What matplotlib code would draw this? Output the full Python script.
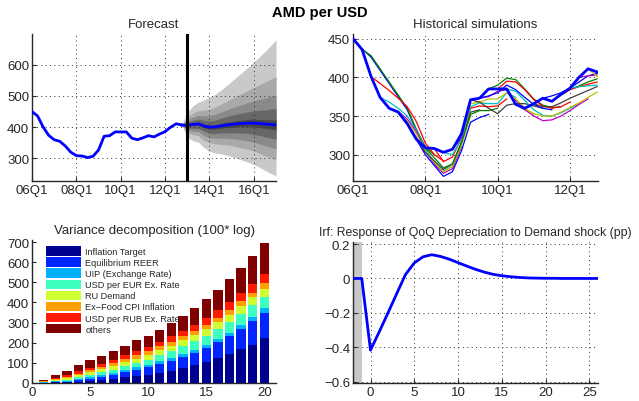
import numpy as np
import matplotlib
matplotlib.use('Agg')
import matplotlib.pyplot as plt

plt.rcParams['font.family'] = ['Liberation Sans', 'DejaVu Sans']
plt.rcParams['axes.unicode_minus'] = True

# ---------------- DATA ----------------
# Actual AMD per USD, 06Q1 .. 12Q4 (quarterly)
actual = [450, 436, 401, 374, 360, 355, 340, 320, 309, 308, 303, 307, 327, 371,
          373, 385, 385, 385, 365, 360, 366, 373, 369, 378, 386, 400, 411, 407]

# Forecast 12Q4 .. 17Q1
fc_mean = [407, 406, 409, 411, 404, 400, 401, 404, 407, 409, 411, 412, 413, 413, 412, 410, 409, 407]
fan_up90 = [407, 448, 468, 480, 487, 495, 505, 518, 532, 547, 562, 577, 592, 608, 625, 642, 660, 680]
fan_lo90 = [407, 368, 357, 352, 335, 323, 318, 315, 311, 306, 301, 294, 288, 281, 272, 262, 253, 244]
fan_up70 = [407, 432, 445, 453, 455, 457, 464, 473, 482, 491, 501, 509, 518, 527, 536, 544, 553, 562]
fan_lo70 = [407, 382, 376, 373, 359, 350, 347, 345, 344, 341, 337, 333, 329, 324, 317, 309, 303, 295]
fan_up50 = [407, 423, 432, 438, 436, 437, 441, 447, 454, 461, 467, 473, 479, 484, 489, 493, 498, 502]
fan_lo50 = [407, 390, 387, 386, 374, 367, 365, 365, 365, 363, 362, 359, 356, 352, 347, 341, 336, 330]
fan_up30 = [407, 415, 422, 426, 422, 420, 423, 428, 433, 438, 442, 446, 449, 452, 454, 455, 458, 459]
fan_lo30 = [407, 397, 396, 396, 387, 381, 380, 381, 382, 382, 382, 381, 380, 377, 374, 369, 366, 361]
fan_up10 = [407, 409, 413, 416, 410, 407, 408, 412, 416, 418, 421, 423, 425, 426, 425, 424, 424, 423]
fan_lo10 = [407, 403, 405, 406, 398, 394, 394, 396, 399, 400, 401, 402, 402, 401, 399, 396, 394, 391]

fc_ticklabels = ['06Q1', '08Q1', '10Q1', '12Q1', '14Q1', '16Q1']
hs_ticklabels = ['06Q1', '08Q1', '10Q1', '12Q1']

# Historical simulations: start quarter index (0 = 06Q1) and simulated path
sim_starts = list(range(27))
sim_paths = [
    [450, 437, 426, 409, 392, 375, 358, 332, 309],
    [436, 428, 411, 394, 377, 360, 333, 310, 300],
    [401, 392, 383, 373, 362, 343, 315, 300, 292],
    [374, 368, 360, 350, 332, 308, 290, 279, 285],
    [360, 356, 346, 330, 305, 288, 276, 282, 310],
    [355, 343, 327, 305, 290, 278, 285, 312, 350],
    [340, 322, 303, 292, 281, 288, 316, 355, 358],
    [320, 300, 286, 272, 278, 305, 342, 348, 352],
    [309, 296, 283, 288, 316, 352, 357, 357, 360],
    [308, 291, 297, 322, 360, 363, 362, 363, 372],
    [303, 300, 320, 362, 367, 366, 366, 380, 374],
    [307, 322, 370, 373, 375, 382, 384, 370, 360],
    [327, 366, 368, 372, 372, 380, 372, 360, 352],
    [371, 368, 360, 353, 364, 366, 366, 363, 360],
    [373, 376, 380, 390, 384, 374, 365, 360, 358],
    [385, 390, 399, 397, 385, 372, 364, 361, 362],
    [385, 395, 394, 384, 371, 363, 360, 362, 368],
    [385, 382, 370, 358, 351, 350, 354, 360, 366],
    [365, 358, 350, 344, 345, 350, 357, 365, 372],
    [360, 353, 350, 350, 355, 361, 367, 374, 381],
    [366, 362, 362, 367, 373, 378, 383, 388],
    [373, 376, 380, 386, 394, 402, 405],
    [369, 377, 384, 389, 394, 398],
    [378, 384, 388, 391, 394],
    [386, 388, 389, 390],
    [400, 402, 403],
    [411, 401],
]

# Variance decomposition (100*log), horizons 1..20
vd_labels = ['Inflation Target', 'Equilibrium REER', 'UIP (Exchange Rate)',
             'USD per EUR Ex. Rate', 'RU Demand', 'Ex\u2212Food CPI Inflation',
             'USD per RUB Ex. Rate', 'others']
vd_it   = [1, 3, 3, 7, 10, 15, 22, 28, 35, 41, 51, 61, 75, 91, 104, 124, 146, 167, 189, 221]
vd_reer = [1, 2, 4, 6, 12, 15, 18, 25, 31, 37, 45, 50, 56, 60, 68, 78, 88, 103, 119, 129]
vd_uip  = [1, 3, 3, 5, 6, 8, 10, 10, 12, 13, 12, 15, 15, 15, 17, 17, 16, 20, 19, 20]
vd_eur  = [2, 4, 7, 10, 12, 15, 16, 20, 22, 25, 30, 33, 38, 43, 46, 50, 55, 55, 58, 58]
vd_ru   = [2, 3, 6, 10, 13, 15, 19, 20, 21, 25, 28, 27, 30, 30, 34, 33, 35, 36, 40, 41]
vd_cpi  = [1, 3, 7, 8, 10, 12, 13, 15, 17, 17, 16, 20, 18, 20, 21, 21, 23, 24, 23, 27]
vd_rub  = [2, 5, 8, 12, 13, 16, 18, 20, 20, 21, 24, 25, 28, 31, 33, 37, 40, 43, 45, 45]
vd_oth  = [7, 15, 23, 30, 37, 40, 45, 48, 54, 56, 59, 66, 73, 81, 92, 104, 114, 122, 140, 152]

# Impulse response, periods -2 .. 26
irf_vals = [0, 0, -0.417, -0.31, -0.20, -0.088, 0.023, 0.09, 0.126, 0.138, 0.128, 0.112,
            0.092, 0.072, 0.053, 0.037, 0.024, 0.016, 0.010, 0.006, 0.003, 0.002, 0.001,
            0.001, 0, 0, 0, 0, 0]

# ---------------- STYLE ----------------
W, H = 639, 402
fig = plt.figure(figsize=(W / 100, H / 100), dpi=100)
TXT = '#262626'

def ax_at(x0, y0, x1, y1):
    return fig.add_axes([x0 / W, 1 - y1 / H, (x1 - x0) / W, (y1 - y0) / H])

def style(ax, grid=True):
    for s in ['top', 'right']:
        ax.spines[s].set_visible(False)
    for s in ['left', 'bottom']:
        ax.spines[s].set_color(TXT)
        ax.spines[s].set_linewidth(1.0)
    ax.tick_params(direction='in', length=3, width=0.8, colors=TXT, labelsize=9.5, pad=2)
    if grid:
        ax.grid(True, color='#303030', linestyle=(0, (1, 3.5)), linewidth=0.7)
        ax.set_axisbelow(False)

fig.text(0.5, 1 - 13 / H, 'AMD per USD', ha='center', va='center', fontsize=10.5,
         fontweight='bold', color='black')

# ---- Forecast ----
ax1 = ax_at(32, 35, 276, 182)
style(ax1)
t_hist = np.arange(len(actual))
t_fc = np.arange(len(fc_mean)) + len(actual) - 1
bands = [(fan_lo90, fan_up90, '#c9c9c9'), (fan_lo70, fan_up70, '#a9a9a9'),
         (fan_lo50, fan_up50, '#8a8a8a'), (fan_lo30, fan_up30, '#676767'),
         (fan_lo10, fan_up10, '#474747')]
for lo, up, c in bands:
    ax1.fill_between(t_fc, lo, up, color=c, linewidth=0, zorder=2)
ax1.plot(t_hist, actual, color='#0000ff', lw=2.0, zorder=4)
ax1.plot(t_fc, fc_mean, color='#0000ff', lw=2.0, zorder=4)
ax1.axvline(len(actual), color='black', lw=2.2, zorder=5)
ax1.set_xlim(0, 44)
ax1.set_ylim(228, 698)
ax1.set_xticks(np.arange(0, 41, 8))
ax1.set_xticklabels(fc_ticklabels)
ax1.set_yticks([300, 400, 500, 600])
ax1.set_title('Forecast', fontsize=9.5, color=TXT, pad=5)

# ---- Historical simulations ----
ax2 = ax_at(353, 35, 598, 182)
style(ax2)
sim_colors = [(0, 0, 1), (0, 0.5, 0), (1, 0, 0), (0, 0.75, 0.75),
              (0.75, 0, 0.75), (0.75, 0.75, 0), (0.25, 0.25, 0.25)]
for i, (s, p) in enumerate(zip(sim_starts, sim_paths)):
    ax2.plot(np.arange(s, s + len(p)), p, color=sim_colors[i % 7], lw=0.9, zorder=3)
ax2.plot(t_hist, actual, color='#0000ff', lw=2.0, zorder=4)
ax2.set_xlim(0, 27.1)
ax2.set_ylim(266, 456)
ax2.set_xticks([0, 8, 16, 24])
ax2.set_xticklabels(hs_ticklabels)
ax2.set_yticks([300, 350, 400, 450])
ax2.set_title('Historical simulations', fontsize=9.5, color=TXT, pad=5)

# ---- Variance decomposition ----
ax3 = ax_at(32, 241, 276, 384)
style(ax3, grid=False)
vd_series = [vd_it, vd_reer, vd_uip, vd_eur, vd_ru, vd_cpi, vd_rub, vd_oth]
vd_colors = ['#00008f', '#0025ff', '#00b0ff', '#3dffc0', '#cfff30', '#ffa000', '#ff1a00', '#800000']
h = np.arange(1, len(vd_it) + 1)
bottom = np.zeros(len(h))
for vals, c, lab in zip(vd_series, vd_colors, vd_labels):
    ax3.bar(h, vals, bottom=bottom, width=0.8, color=c, edgecolor='none', label=lab, zorder=3)
    bottom += np.array(vals)
ax3.set_xlim(0, 21)
ax3.set_ylim(0, 710)
ax3.set_xticks([0, 5, 10, 15, 20])
ax3.set_yticks(np.arange(0, 701, 100))
ax3.set_title('Variance decomposition (100* log)', fontsize=9.5, color=TXT, pad=5)
leg = ax3.legend(loc='upper left', bbox_to_anchor=(0.03, 1.0), fontsize=6.6, frameon=False,
                 handlelength=3.9, handleheight=1.25, labelspacing=0.12, handletextpad=0.4,
                 borderaxespad=0.3)
for t in leg.get_texts():
    t.set_color(TXT)

# ---- IRF ----
ax4 = ax_at(353, 243, 598, 384)
style(ax4)
x_irf = np.arange(-2, -2 + len(irf_vals))
ax4.axvspan(-2, -1, color='#c8c8c8', lw=0, zorder=1)
ax4.plot(x_irf, irf_vals, color='#0000ff', lw=2.0, zorder=4)
ax4.set_xlim(-2, 26)
ax4.set_ylim(-0.608, 0.212)
ax4.set_xticks([0, 5, 10, 15, 20, 25])
ax4.set_yticks([-0.6, -0.4, -0.2, 0, 0.2])
ax4.set_yticklabels(['\u22120.6', '\u22120.4', '\u22120.2', '0', '0.2'])
ax4.set_title('Irf: Response of QoQ Depreciation to Demand shock (pp)', fontsize=8.8,
              color=TXT, pad=5)

fig.savefig('out.png', dpi=100)
